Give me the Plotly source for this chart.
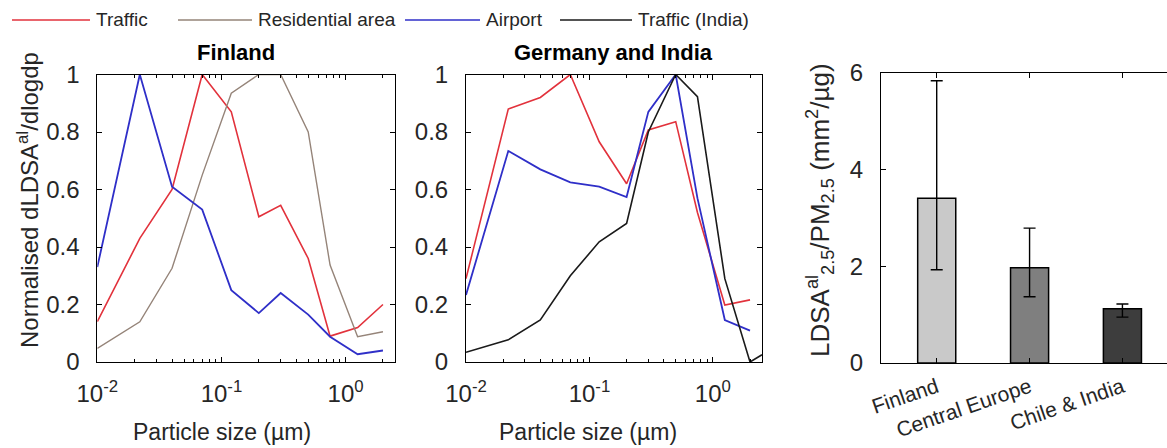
import plotly.graph_objects as go

# ---- data -------------------------------------------------------------
SIZE_BINS = [0.01, 0.022, 0.04, 0.07, 0.12, 0.2, 0.3, 0.5, 0.75, 1.25, 2.0]
SIZE_BINS_INDIA = [0.01, 0.022, 0.04, 0.07, 0.12, 0.2, 0.3, 0.5, 0.75, 1.25, 2.0, 2.5]

# Finland (normalised dLDSA/dlogdp)
fi_traffic = [0.14, 0.43, 0.60, 1.00, 0.87, 0.505, 0.545, 0.36, 0.09, 0.12, 0.20]
fi_residential = [0.047, 0.14, 0.326, 0.65, 0.935, 1.00, 1.00, 0.80, 0.337, 0.088, 0.105]
fi_airport = [0.33, 1.00, 0.61, 0.53, 0.25, 0.17, 0.24, 0.165, 0.088, 0.027, 0.04]

# Germany and India
de_traffic = [0.29, 0.88, 0.92, 1.00, 0.766, 0.62, 0.807, 0.836, 0.52, 0.198, 0.216]
de_airport = [0.233, 0.734, 0.67, 0.625, 0.61, 0.574, 0.87, 1.00, 0.57, 0.146, 0.109]
in_traffic = [0.034, 0.077, 0.146, 0.30, 0.418, 0.482, 0.80, 1.00, 0.923, 0.29, 0.0, 0.025]

# LDSA / PM2.5 ratio by region
regions = ["Finland", "Central Europe", "Chile & India"]
ratio_mean = [3.41, 1.97, 1.12]
ratio_high = [5.84, 2.79, 1.22]
ratio_low = [1.93, 1.37, 0.95]

legend_labels = ["Traffic", "Residential area", "Airport", "Traffic (India)"]
y_ticks = [0, 0.2, 0.4, 0.6, 0.8, 1]
y_tick_text = ["0", "0.2", "0.4", "0.6", "0.8", "1"]
x_ticks = [0.01, 0.1, 1]
x_tick_text = ["10<sup>-2</sup>", "10<sup>-1</sup>", "10<sup>0</sup>"]
x_minor_ticks = [k * 0.01 for k in range(2, 10)] + [k * 0.1 for k in range(2, 10)] + [2]
bar_y_ticks = [0, 2, 4, 6]

# ---- styling ----------------------------------------------------------
W, H = 1167, 448
FONT = "Liberation Sans, Arial, sans-serif"
TXT = "#262626"
C_RED = "#e2323c"
C_GREY = "#958479"
C_BLUE = "#2f2fc8"
C_BLACK = "#1a1a1a"
BAR_COLORS = ["#c9c9c9", "#7f7f7f", "#3d3d3d"]
TICK_SIZE = 24
LABEL_SIZE = 23


def px(x):
    return x / W


def py(y):
    return 1 - y / H


Y_DOM = [py(362), py(74.5)]

fig = go.Figure()


def line(x, y, color, xa, ya, width=1.6):
    fig.add_trace(go.Scatter(x=x, y=y, mode="lines", xaxis=xa, yaxis=ya,
                             line=dict(color=color, width=width),
                             showlegend=False, hoverinfo="skip"))


# Finland panel
line(SIZE_BINS, fi_traffic, C_RED, "x", "y")
line(SIZE_BINS, fi_residential, C_GREY, "x", "y", 1.4)
line(SIZE_BINS, fi_airport, C_BLUE, "x", "y", 1.8)

# Germany and India panel
line(SIZE_BINS, de_traffic, C_RED, "x2", "y2")
line(SIZE_BINS, de_airport, C_BLUE, "x2", "y2", 1.8)
line(SIZE_BINS_INDIA, in_traffic, C_BLACK, "x2", "y2")

# Ratio bars with error bars
fig.add_trace(go.Bar(
    x=[1, 2, 3], y=ratio_mean, xaxis="x3", yaxis="y3", width=0.41,
    marker=dict(color=BAR_COLORS, line=dict(color="black", width=1.5)),
    error_y=dict(type="data", symmetric=False,
                 array=[h - m for h, m in zip(ratio_high, ratio_mean)],
                 arrayminus=[m - l for m, l in zip(ratio_mean, ratio_low)],
                 color="black", thickness=1.4, width=6),
    showlegend=False, hoverinfo="skip"))

log_axis = dict(type="log", range=[-2, 0.398], tickvals=x_ticks, ticktext=x_tick_text,
                ticks="inside", ticklen=5, tickcolor="black", showline=True,
                linecolor="black", linewidth=1, mirror="ticks", showgrid=False,
                zeroline=False, ticklabelstandoff=10, automargin=False,
                tickfont=dict(family=FONT, size=TICK_SIZE, color=TXT),
                minor=dict(tickvals=x_minor_ticks, ticks="inside", ticklen=3,
                           tickcolor="black", showgrid=False))
lin_axis = dict(range=[0, 1], tickvals=y_ticks, ticktext=y_tick_text,
                ticks="inside", ticklen=5, tickcolor="black", showline=True,
                linecolor="black", linewidth=1, mirror="ticks", showgrid=False,
                zeroline=False, ticklabelstandoff=12, automargin=False,
                tickfont=dict(family=FONT, size=TICK_SIZE, color=TXT))

fig.update_layout(
    width=W, height=H, margin=dict(l=0, r=0, t=0, b=0, autoexpand=False),
    paper_bgcolor="white", plot_bgcolor="white", showlegend=False,
    font=dict(family=FONT, color=TXT),
    xaxis=dict(log_axis, domain=[px(97.3), px(395)], anchor="y"),
    yaxis=dict(lin_axis, domain=Y_DOM, anchor="x"),
    xaxis2=dict(log_axis, domain=[px(466), px(762)], anchor="y2"),
    yaxis2=dict(lin_axis, domain=Y_DOM, anchor="x2"),
    xaxis3=dict(domain=[px(881), 1.0], anchor="y3", range=[0.4, 3.48],
                tickvals=[1, 2, 3], ticktext=regions, tickangle=-19,
                ticks="inside", ticklen=5, tickcolor="black", showline=True,
                linecolor="black", linewidth=1, mirror="ticks", showgrid=False,
                zeroline=False, ticklabelstandoff=3, automargin=False,
                tickfont=dict(family=FONT, size=21, color=TXT)),
    yaxis3=dict(domain=[py(363), py(73)], anchor="x3", range=[0, 6],
                tickvals=bar_y_ticks, ticks="inside", ticklen=5, tickcolor="black",
                showline=True, linecolor="black", linewidth=1, mirror=False,
                showgrid=False, zeroline=False, ticklabelstandoff=12, automargin=False,
                tickfont=dict(family=FONT, size=TICK_SIZE, color=TXT)),
)

ann = []
# panel titles
ann.append(dict(x=px(236), y=py(52), text="<b>Finland</b>", font=dict(size=22, color="black")))
ann.append(dict(x=px(613), y=py(52), text="<b>Germany and India</b>", font=dict(size=22, color="black")))
# axis titles
ann.append(dict(x=px(222), y=py(432), text="Particle size (µm)", font=dict(size=LABEL_SIZE)))
ann.append(dict(x=px(588), y=py(432), text="Particle size (µm)", font=dict(size=LABEL_SIZE)))
ann.append(dict(x=px(28), y=py(200), text="Normalised dLDSA<sup>al</sup>/dlogdp",
                textangle=-90, font=dict(size=24)))
ann.append(dict(x=px(820), y=py(210),
                text="LDSA<sup>al</sup><sub>2.5</sub>/PM<sub>2.5</sub> (mm<sup>2</sup>/µg)",
                textangle=-90, font=dict(size=26)))

# legend row
legend_colors = [C_RED, C_GREY, C_BLUE, C_BLACK]
legend_line_x = [(12, 90), (178, 252), (405, 480), (560, 632)]
shapes = []
for (x0, x1), col, lab in zip(legend_line_x, legend_colors, legend_labels):
    shapes.append(dict(type="line", xref="paper", yref="paper", x0=px(x0), x1=px(x1),
                       y0=py(20), y1=py(20), line=dict(color=col, width=1.6)))
    ann.append(dict(x=px(x1 + 4), y=py(20), text=lab, xanchor="left",
                    font=dict(size=19)))

for a in ann:
    a.setdefault("xref", "paper")
    a.setdefault("yref", "paper")
    a.setdefault("showarrow", False)
    a.setdefault("xanchor", "center")
    a.setdefault("yanchor", "middle")
    a["font"].setdefault("family", FONT)
    a["font"].setdefault("color", TXT)

fig.update_layout(annotations=ann, shapes=shapes)
fig.write_html("out.html")
